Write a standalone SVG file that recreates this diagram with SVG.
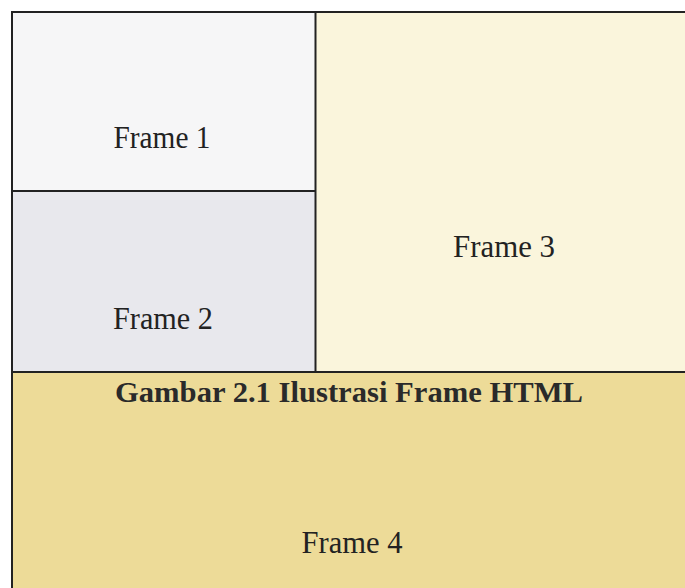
<svg xmlns="http://www.w3.org/2000/svg" width="685" height="588" viewBox="0 0 685 588">
  <style>
    .lbl { font-family: "Liberation Serif", "Times New Roman", serif; font-size: 31px; fill: #222; text-anchor: middle; }
    .cap { font-family: "Liberation Serif", "Times New Roman", serif; font-size: 29px; font-weight: bold; fill: #2a2a2a; text-anchor: middle; }
    .edge { stroke: #222; stroke-width: 2; fill: none; }
  </style>
  <rect x="0" y="0" width="685" height="588" fill="#ffffff"/>
  <g id="frame1">
    <rect x="12" y="12" width="304" height="179" fill="#f6f6f7"/>
    <text class="lbl" x="162" y="148" textLength="97" lengthAdjust="spacingAndGlyphs">Frame 1</text>
  </g>
  <g id="frame2">
    <rect x="12" y="191" width="304" height="181" fill="#e8e8ed"/>
    <text class="lbl" x="163" y="329" textLength="100" lengthAdjust="spacingAndGlyphs">Frame 2</text>
  </g>
  <g id="frame3">
    <rect x="316" y="12" width="369" height="360" fill="#faf5dc"/>
    <text class="lbl" x="504" y="257" textLength="102" lengthAdjust="spacingAndGlyphs">Frame 3</text>
  </g>
  <g id="frame4">
    <rect x="12" y="372" width="673" height="216" fill="#eddb98"/>
    <text class="cap" x="349" y="402" textLength="468" lengthAdjust="spacingAndGlyphs">Gambar 2.1 Ilustrasi Frame HTML</text>
    <text class="lbl" x="352" y="553" textLength="101" lengthAdjust="spacingAndGlyphs">Frame 4</text>
  </g>
  <g id="connectors">
    <line class="edge" x1="12" y1="12" x2="685" y2="12"/>
    <line class="edge" x1="12" y1="11" x2="12" y2="588"/>
    <line class="edge" x1="315.5" y1="12" x2="315.5" y2="372"/>
    <line class="edge" x1="12" y1="191" x2="315.5" y2="191"/>
    <line class="edge" x1="12" y1="372" x2="685" y2="372"/>
  </g>
</svg>
